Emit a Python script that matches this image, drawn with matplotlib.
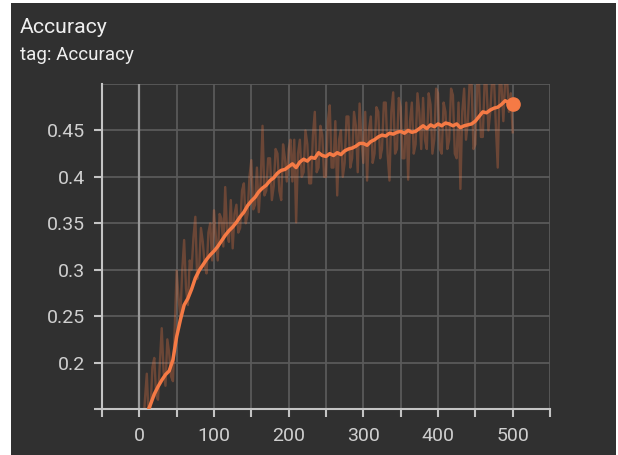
import matplotlib
matplotlib.use("Agg")
import matplotlib.pyplot as plt
import numpy as np
from matplotlib.patches import Rectangle

plt.rcParams['font.family'] = ['Roboto', 'DejaVu Sans']

# raw (unsmoothed) accuracy, one value every 2.5 steps from 5 to 500
raw_steps = np.arange(5, 500.1, 2.5)
raw = [0.125, 0.160, 0.188, 0.140, 0.150, 0.195, 0.205, 0.165, 0.160, 0.200,
       0.237, 0.190, 0.175, 0.225, 0.210, 0.185, 0.180, 0.240, 0.299, 0.270,
       0.249, 0.300, 0.332, 0.280, 0.262, 0.310, 0.300, 0.335, 0.357, 0.290,
       0.300, 0.345, 0.330, 0.305, 0.296, 0.340, 0.350, 0.310, 0.364, 0.335,
       0.310, 0.360, 0.355, 0.325, 0.389, 0.340, 0.330, 0.375, 0.323, 0.360,
       0.370, 0.340, 0.345, 0.385, 0.393, 0.350, 0.360, 0.400, 0.418, 0.365,
       0.370, 0.410, 0.362, 0.395, 0.455, 0.380, 0.385, 0.420, 0.420, 0.375,
       0.390, 0.430, 0.425, 0.385, 0.375, 0.435, 0.420, 0.395, 0.430, 0.440,
       0.395, 0.440, 0.351, 0.425, 0.440, 0.400, 0.405, 0.450, 0.435, 0.393,
       0.393, 0.445, 0.470, 0.405, 0.410, 0.455, 0.445, 0.400, 0.400, 0.460,
       0.477, 0.410, 0.410, 0.460, 0.380, 0.440, 0.450, 0.400, 0.415, 0.465,
       0.465, 0.410, 0.420, 0.470, 0.455, 0.405, 0.479, 0.440, 0.415, 0.470,
       0.396, 0.450, 0.465, 0.415, 0.425, 0.475, 0.470, 0.420, 0.430, 0.480,
       0.480, 0.425, 0.396, 0.470, 0.491, 0.425, 0.430, 0.485, 0.475, 0.420,
       0.420, 0.480, 0.397, 0.460, 0.480, 0.425, 0.435, 0.490, 0.470, 0.430,
       0.485, 0.440, 0.430, 0.490, 0.478, 0.425, 0.440, 0.495, 0.490, 0.430,
       0.425, 0.480, 0.470, 0.430, 0.440, 0.495, 0.488, 0.425, 0.420, 0.480,
       0.387, 0.470, 0.495, 0.440, 0.460, 0.505, 0.500, 0.430, 0.435, 0.500,
       0.500, 0.443, 0.443, 0.505, 0.500, 0.450, 0.470, 0.505, 0.505, 0.455,
       0.410, 0.500, 0.500, 0.460, 0.505, 0.505, 0.470, 0.490, 0.448]

# smoothed accuracy, one value every 5 steps from 5 to 500
steps = list(range(5, 505, 5))
smoothed = [0.135, 0.145, 0.155, 0.166, 0.174, 0.181, 0.187, 0.191, 0.203, 0.228,
            0.246, 0.262, 0.269, 0.279, 0.291, 0.299, 0.305, 0.311, 0.316, 0.320,
            0.325, 0.331, 0.337, 0.342, 0.346, 0.351, 0.357, 0.362, 0.369, 0.374,
            0.378, 0.384, 0.388, 0.391, 0.396, 0.399, 0.404, 0.407, 0.408, 0.411,
            0.414, 0.410, 0.416, 0.419, 0.417, 0.421, 0.420, 0.426, 0.423, 0.422,
            0.425, 0.423, 0.426, 0.424, 0.428, 0.430, 0.431, 0.433, 0.436, 0.436,
            0.434, 0.438, 0.440, 0.443, 0.445, 0.444, 0.447, 0.446, 0.448, 0.449,
            0.447, 0.450, 0.448, 0.449, 0.452, 0.455, 0.452, 0.456, 0.454, 0.457,
            0.455, 0.458, 0.457, 0.455, 0.457, 0.453, 0.455, 0.456, 0.457, 0.460,
            0.465, 0.470, 0.469, 0.472, 0.474, 0.475, 0.478, 0.482, 0.480, 0.478]

x_ticks = [0, 100, 200, 300, 400, 500]
y_ticks = [0.2, 0.25, 0.3, 0.35, 0.4, 0.45]
y_labels = ['0.2', '0.25', '0.3', '0.35', '0.4', '0.45']
title = "Accuracy"
subtitle = "tag: Accuracy"

BG = '#303030'
ORANGE = '#f57a45'
GRID = '#5a5a5a'
AXC = '#c4c4c4'
TXT = '#cfcfcf'

fig = plt.figure(figsize=(6.18, 4.55), dpi=100, facecolor='white')
fig.patches.append(Rectangle((11 / 618, 0), (616 - 11) / 618, 1 - 3 / 455,
                             transform=fig.transFigure, facecolor=BG,
                             edgecolor='none', zorder=-10))

ax = fig.add_axes([102 / 618, 1 - 409 / 455, (550 - 102) / 618, (409 - 84) / 455])
ax.set_facecolor(BG)
ax.set_xlim(-50, 550)
ax.set_ylim(0.15, 0.5)

# grid
for gx in range(-50, 551, 50):
    ax.axvline(gx, color=GRID, lw=1.3, zorder=0)
for gy in [0.15, 0.2, 0.25, 0.3, 0.35, 0.4, 0.45, 0.5]:
    ax.axhline(gy, color=GRID, lw=1.3, zorder=0)
ax.axvline(0, color='#9a9a9a', lw=1.6, zorder=1)

ax.plot(raw_steps, raw, color=ORANGE, alpha=0.3, lw=1.7, zorder=2)
ax.plot(steps, smoothed, color=ORANGE, lw=2.5, zorder=3, solid_capstyle='round')
ax.plot([steps[-1]], [smoothed[-1]], 'o', color=ORANGE, markersize=9.5, zorder=4)

for s in ['top', 'right']:
    ax.spines[s].set_visible(False)
for s in ['left', 'bottom']:
    ax.spines[s].set_color(AXC)
    ax.spines[s].set_linewidth(1.5)

ax.set_xticks(list(range(-50, 551, 50)))
ax.set_xticklabels([str(v) if v in x_ticks else '' for v in range(-50, 551, 50)])
ax.set_yticks([0.15] + y_ticks)
ax.set_yticklabels([''] + y_labels)
ax.tick_params(axis='x', colors=AXC, length=6, width=1.5, pad=7, labelsize=14,
               labelcolor=TXT)
ax.tick_params(axis='y', colors=AXC, length=6, width=1.5, pad=6, labelsize=14,
               labelcolor=TXT)

fig.text(20 / 618, 1 - 33 / 455, title, color='#eeeeee', fontsize=15.3,
         ha='left', va='baseline')
fig.text(20 / 618, 1 - 60 / 455, subtitle, color='#eeeeee', fontsize=13.5,
         ha='left', va='baseline')

fig.savefig('out.png', dpi=100, facecolor='white')
